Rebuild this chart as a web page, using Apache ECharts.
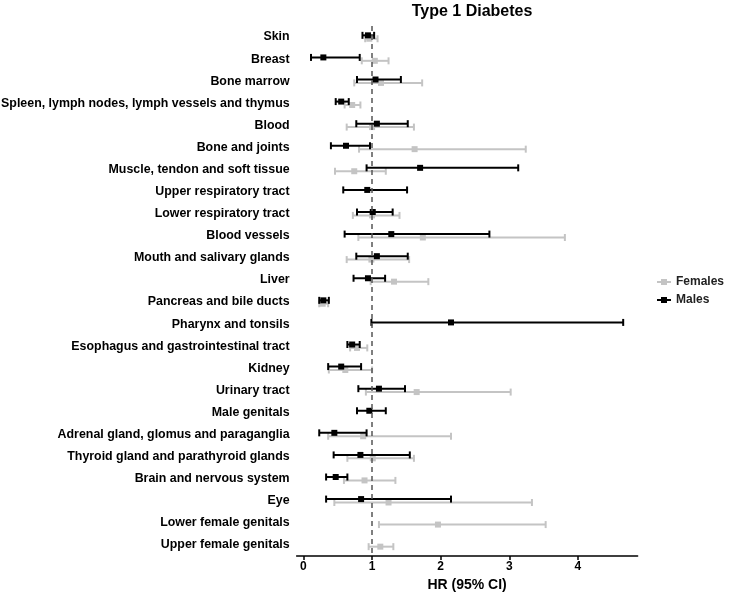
<!DOCTYPE html>
<html>
<head>
<meta charset="utf-8">
<script src="https://cdn.jsdelivr.net/npm/echarts@6/dist/echarts.min.js"></script>
<style>
  html, body { margin: 0; padding: 0; background: #fff; }
  #chart { width: 732px; height: 592px; }
</style>
</head>
<body>
<div id="chart"></div>
<script>
// categories, top to bottom
const categories = [
  'Skin', 'Breast', 'Bone marrow', 'Spleen, lymph nodes, lymph vessels and thymus',
  'Blood', 'Bone and joints', 'Muscle, tendon and soft tissue', 'Upper respiratory tract',
  'Lower respiratory tract', 'Blood vessels', 'Mouth and salivary glands', 'Liver',
  'Pancreas and bile ducts', 'Pharynx and tonsils', 'Esophagus and gastrointestinal tract',
  'Kidney', 'Urinary tract', 'Male genitals', 'Adrenal gland, glomus and paraganglia',
  'Thyroid gland and parathyroid glands', 'Brain and nervous system', 'Eye',
  'Lower female genitals', 'Upper female genitals'
]

const femalesHR = [0.96, 1.04, 1.13, 0.71, 1.00, 1.62, 0.74, null, 1.00, 1.74, 0.99, 1.32, 0.28, null, 0.78, 0.61, 1.65, null, 0.87, 1.01, 0.89, 1.24, 1.96, 1.12]
const femalesLo = [0.90, 0.85, 0.74, 0.60, 0.63, 0.81, 0.46, null, 0.72, 0.80, 0.63, 0.98, 0.23, null, 0.68, 0.37, 0.91, null, 0.36, 0.64, 0.59, 0.45, 1.10, 0.95]
const femalesHi = [1.08, 1.24, 1.73, 0.83, 1.61, 3.24, 1.20, null, 1.40, 3.81, 1.54, 1.82, 0.36, null, 0.93, 1.00, 3.02, null, 2.15, 1.61, 1.34, 3.33, 3.53, 1.31]

const malesHR = [0.94, 0.29, 1.05, 0.55, 1.07, 0.62, 1.70, 0.93, 1.01, 1.28, 1.07, 0.94, 0.29, 2.15, 0.71, 0.55, 1.10, 0.96, 0.45, 0.83, 0.47, 0.84, null, null]
const malesLo = [0.86, 0.11, 0.78, 0.47, 0.77, 0.40, 0.92, 0.58, 0.78, 0.60, 0.77, 0.73, 0.23, 0.99, 0.64, 0.36, 0.80, 0.78, 0.23, 0.44, 0.33, 0.33, null, null]
const malesHi = [1.03, 0.82, 1.42, 0.66, 1.52, 0.97, 3.13, 1.51, 1.30, 2.71, 1.52, 1.19, 0.37, 4.66, 0.82, 0.84, 1.48, 1.20, 0.92, 1.55, 0.64, 2.15, null, null]

const xTicks = [0, 1, 2, 3, 4]

const FONT = '"Liberation Sans", Arial, sans-serif'
const GREY = '#c4c4c4'
const BLACK = '#000'

// [catIndex, hr, lo, hi], skip missing rows
function buildData(hr, lo, hi) {
  const out = []
  hr.forEach((v, i) => {
    if (v == null) return
    out.push([i, v, lo[i], hi[i]])
  })
  return out
}

function errorBar(offset, color) {
  return function (params, api) {
    const cat = api.value(0)
    const y = api.coord([0, cat])[1] + offset
    const xe = api.coord([api.value(1), cat])[0]
    const xl = api.coord([api.value(2), cat])[0]
    const xh = api.coord([api.value(3), cat])[0]
    const style = { stroke: color, lineWidth: 2 }
    const cap = 3.5
    const sq = 3
    return {
      type: 'group',
      children: [
        { type: 'line', shape: { x1: xl, y1: y, x2: xh, y2: y }, style },
        { type: 'line', shape: { x1: xl, y1: y - cap, x2: xl, y2: y + cap }, style },
        { type: 'line', shape: { x1: xh, y1: y - cap, x2: xh, y2: y + cap }, style },
        { type: 'rect', shape: { x: xe - sq, y: y - sq, width: sq * 2, height: sq * 2 }, style: { fill: color } }
      ]
    }
  }
}

const legendIcon = 'path://M0,4 L14,4 L14,6 L0,6 Z M4,2 L10,2 L10,8 L4,8 Z'

const chart = echarts.init(document.getElementById('chart'))

const option = {
  animation: false,
  backgroundColor: '#fff',
  title: {
    text: 'Type 1 Diabetes',
    left: 467,
    top: -1,
    textAlign: 'center',
    textStyle: { fontFamily: FONT, fontSize: 16, fontWeight: 'bold', color: '#000' }
  },
  legend: {
    orient: 'vertical',
    left: 657,
    top: 276,
    padding: 0,
    itemWidth: 14,
    itemHeight: 10,
    itemGap: 6,
    data: [
      { name: 'Females', icon: legendIcon },
      { name: 'Males', icon: legendIcon }
    ],
    textStyle: { fontFamily: FONT, fontSize: 12, fontWeight: 'bold', color: '#222' }
  },
  grid: {
    left: 296.6,
    width: 341,
    top: 26,
    height: 530,
    containLabel: false,
    outerBoundsMode: 'none'
  },
  xAxis: {
    type: 'value',
    min: -0.1,
    max: 4.87,
    name: 'HR (95% CI)',
    nameLocation: 'middle',
    nameGap: 22,
    nameTextStyle: { fontFamily: FONT, fontSize: 14, fontWeight: 'bold', color: '#000' },
    axisLine: { show: true, lineStyle: { color: '#000', width: 1.5 } },
    axisTick: { show: true, length: 4, customValues: xTicks, lineStyle: { color: '#000', width: 1.5 } },
    axisLabel: {
      customValues: xTicks,
      margin: 5,
      fontFamily: FONT, fontSize: 12, fontWeight: 'bold', color: '#000'
    },
    splitLine: { show: false }
  },
  yAxis: {
    type: 'category',
    inverse: true,
    data: categories,
    axisLine: { show: false },
    axisTick: { show: false },
    axisLabel: {
      margin: 7,
      fontFamily: FONT, fontSize: 12.4, fontWeight: 'bold', color: '#000'
    },
    splitLine: { show: false }
  },
  series: [
    {
      name: 'Females',
      type: 'custom',
      renderItem: errorBar(1.7, GREY),
      itemStyle: { color: GREY },
      encode: { x: [1, 2, 3], y: 0 },
      data: buildData(femalesHR, femalesLo, femalesHi),
      z: 3,
      // reference line at HR = 1
      markLine: {
        silent: true,
        symbol: 'none',
        label: { show: false },
        lineStyle: { color: '#555', type: [5, 4], width: 1.5 },
        data: [{ xAxis: 1 }]
      }
    },
    {
      name: 'Males',
      type: 'custom',
      renderItem: errorBar(-1.7, BLACK),
      itemStyle: { color: BLACK },
      encode: { x: [1, 2, 3], y: 0 },
      data: buildData(malesHR, malesLo, malesHi),
      z: 4
    }
  ]
}

chart.setOption(option)
</script>
</body>
</html>
